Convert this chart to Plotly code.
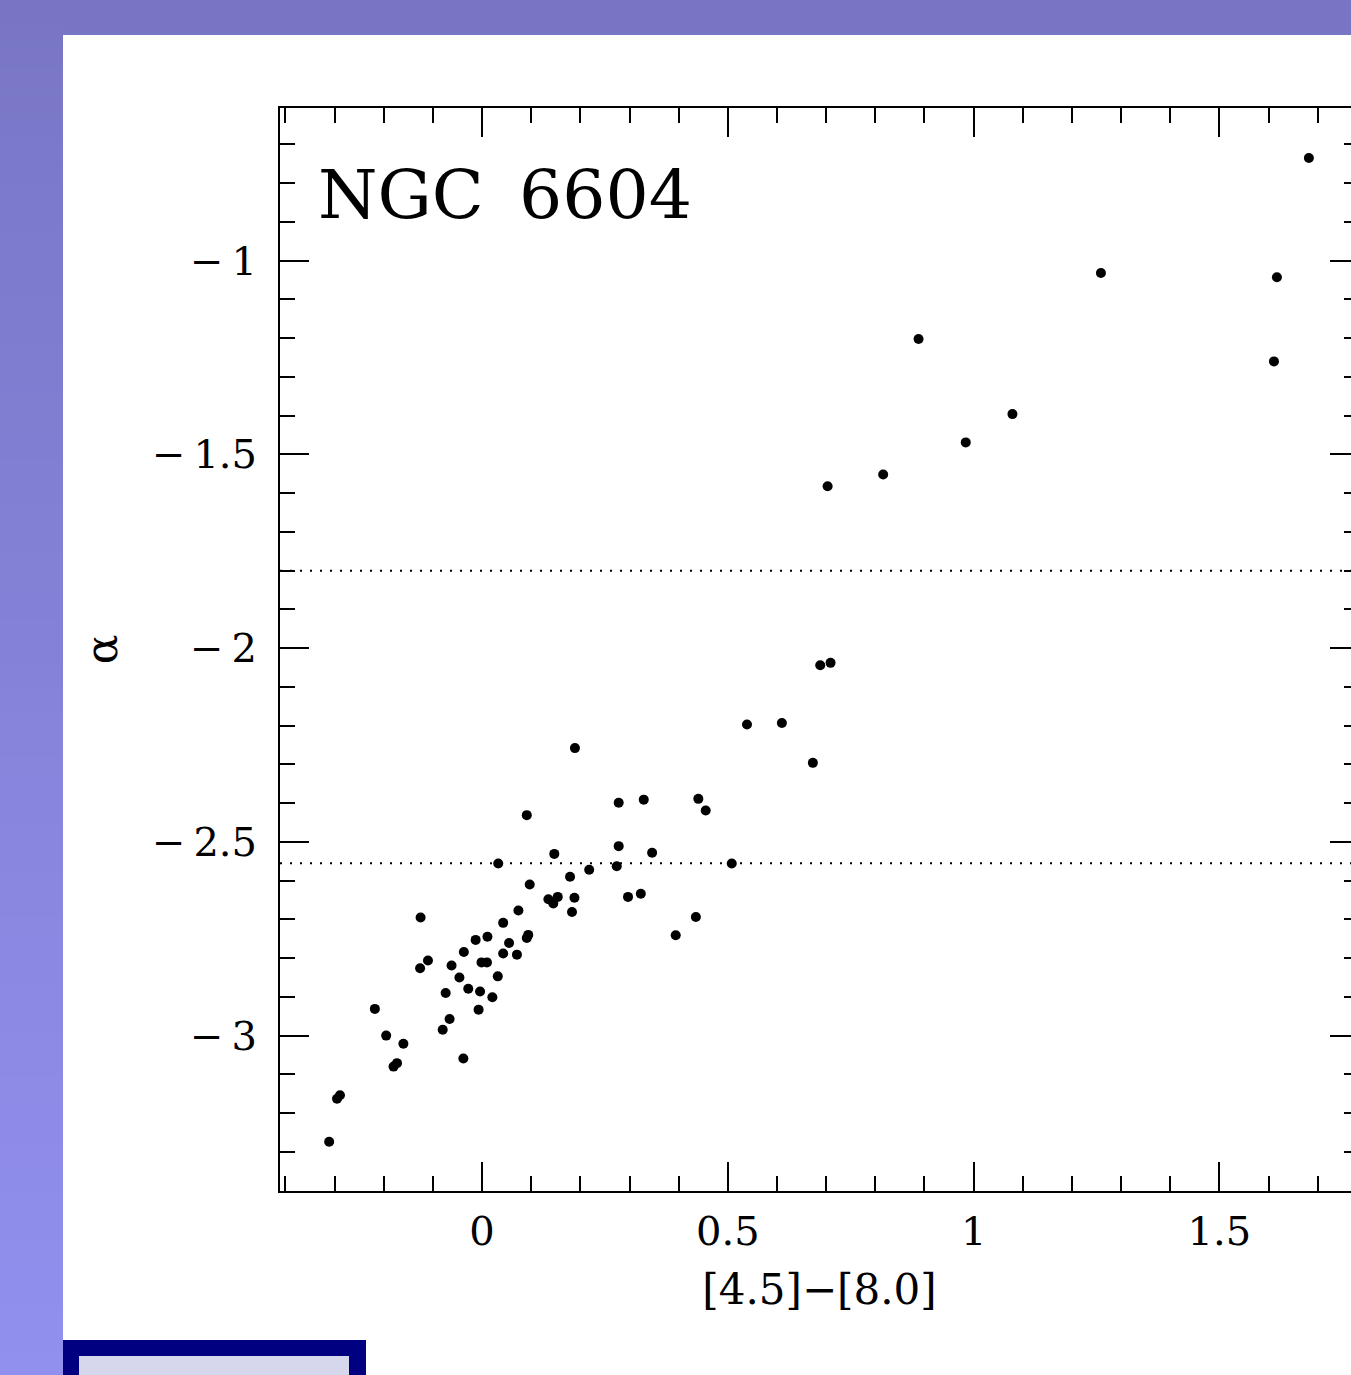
import plotly.graph_objects as go

# ---------------- data ----------------
color_45_80 = [
    -0.311, -0.295, -0.289, -0.218, -0.195, -0.180, -0.173, -0.160, -0.125, -0.126,
    -0.110, -0.080, -0.074, -0.066, -0.062, -0.046, -0.038, -0.037, -0.028, -0.013,
    -0.007, -0.004, -0.001, 0.010, 0.011, 0.021, 0.032, 0.033, 0.043, 0.043,
    0.055, 0.071, 0.074, 0.091, 0.094, 0.091, 0.097, 0.135, 0.145, 0.154,
    0.147, 0.179, 0.183, 0.188, 0.189, 0.218, 0.274, 0.278, 0.278, 0.297,
    0.323, 0.329, 0.346, 0.394, 0.435, 0.440, 0.455, 0.508, 0.539, 0.610,
    0.673, 0.688, 0.709, 0.703, 0.816, 0.888, 0.984, 1.079, 1.259, 1.611,
    1.617, 1.682,
]
alpha = [
    -3.274, -3.163, -3.154, -2.931, -3.000, -3.080, -3.071, -3.021, -2.695, -2.826,
    -2.806, -2.985, -2.890, -2.957, -2.819, -2.850, -3.059, -2.784, -2.879, -2.753,
    -2.933, -2.886, -2.811, -2.811, -2.745, -2.901, -2.847, -2.556, -2.709, -2.788,
    -2.761, -2.791, -2.677, -2.748, -2.740, -2.431, -2.610, -2.648, -2.659, -2.642,
    -2.531, -2.590, -2.681, -2.644, -2.258, -2.572, -2.563, -2.511, -2.399, -2.642,
    -2.634, -2.391, -2.528, -2.741, -2.694, -2.389, -2.419, -2.556, -2.197, -2.193,
    -2.296, -2.044, -2.038, -1.582, -1.552, -1.202, -1.469, -1.396, -1.032, -1.260,
    -1.043, -0.735,
]
class_boundaries = [-1.8, -2.555]

x_tickvals = [0, 0.5, 1, 1.5]
x_ticktext = ["0", "0.5", "1", "1.5"]
y_tickvals = [-3, -2.5, -2, -1.5, -1]
y_ticktext = ["\u2212\u20093", "\u2212\u20092.5", "\u2212\u20092", "\u2212\u20091.5", "\u2212\u20091"]

x_range = [-0.411, 1.784]
y_range = [-3.401, -0.606]

title_text = "NGC\u00a0\u20096604"
x_title = "[4.5]\u2212[8.0]"
y_title = "\u03b1"

# ---------------- layout geometry ----------------
W, H = 1400, 1375
L, R, T, B = 280, 1359, 108, 1191
PW, PH = R - L, B - T


def px(xp):
    return (xp - L) / PW


def py(yp):
    return (B - yp) / PH


FONT = "DejaVu Serif"
TOP_RGB = (120, 118, 196)
BOT_RGB = (146, 144, 239)

shapes = []
# full purple background
shapes.append(dict(type="rect", xref="paper", yref="paper", layer="below",
                   x0=px(0), x1=px(W), y0=py(0), y1=py(H),
                   fillcolor="rgb(%d,%d,%d)" % TOP_RGB, line=dict(width=0)))
# left gradient band
n = 60
for i in range(n):
    y0p = H * i / n
    y1p = H * (i + 1) / n
    t = (i + 0.5) / n
    c = tuple(int(round(a + (b - a) * t)) for a, b in zip(TOP_RGB, BOT_RGB))
    shapes.append(dict(type="rect", xref="paper", yref="paper", layer="below",
                       x0=px(0), x1=px(63), y0=py(y0p), y1=py(y1p + 1),
                       fillcolor="rgb(%d,%d,%d)" % c, line=dict(width=0)))
# white panel
shapes.append(dict(type="rect", xref="paper", yref="paper", layer="below",
                   x0=px(63), x1=px(W), y0=py(35), y1=py(H),
                   fillcolor="white", line=dict(width=0)))
# navy box bottom-left
shapes.append(dict(type="rect", xref="paper", yref="paper", layer="below",
                   x0=px(63), x1=px(366), y0=py(1340), y1=py(H),
                   fillcolor="#000080", line=dict(width=0)))
shapes.append(dict(type="rect", xref="paper", yref="paper", layer="below",
                   x0=px(79), x1=px(349), y0=py(1356), y1=py(H),
                   fillcolor="#D6D6EC", line=dict(width=0)))
# dotted class boundaries
for yb in class_boundaries:
    shapes.append(dict(type="line", xref="paper", yref="y", layer="above",
                       x0=0, x1=1, y0=yb, y1=yb,
                       line=dict(color="black", width=2, dash="2px,8px")))

fig = go.Figure()
fig.add_trace(go.Scatter(
    x=color_45_80, y=alpha, mode="markers",
    marker=dict(size=10, color="black", line=dict(width=0)),
    showlegend=False, hoverinfo="x+y",
))

axis_common = dict(
    showline=True, linecolor="black", linewidth=2, mirror="allticks",
    ticks="inside", ticklen=29, tickwidth=2, tickcolor="black",
    showgrid=False, zeroline=False,
    tickfont=dict(family=FONT, size=40, color="black"),
    minor=dict(ticks="inside", ticklen=15, tickwidth=2, tickcolor="black",
               dtick=0.1, tick0=0, showgrid=False),
)

fig.update_layout(
    width=W, height=H,
    margin=dict(l=L, r=W - R, t=T, b=H - B, pad=0),
    paper_bgcolor="rgb(%d,%d,%d)" % TOP_RGB,
    plot_bgcolor="rgba(0,0,0,0)",
    shapes=shapes,
    xaxis=dict(range=x_range, tickmode="array", tickvals=x_tickvals, ticktext=x_ticktext,
               ticklabelstandoff=4,
               title=dict(text=x_title, font=dict(family=FONT, size=42, color="black"), standoff=22),
               **axis_common),
    yaxis=dict(range=y_range, tickmode="array", tickvals=y_tickvals, ticktext=y_ticktext,
               ticklabelstandoff=13,
               title=dict(text=y_title, font=dict(family=FONT, size=44, color="black"), standoff=20),
               **axis_common),
    annotations=[dict(text=title_text, xref="paper", yref="paper",
                      x=px(316), y=py(194), xanchor="left", yanchor="middle",
                      showarrow=False, font=dict(family=FONT, size=68, color="black"))],
)

fig.write_html(
    "out.html",
    config={"displayModeBar": False},
    post_script="document.body.style.margin='0';document.body.style.overflow='hidden';"
                "document.body.style.background='rgb(120,118,196)';",
)
